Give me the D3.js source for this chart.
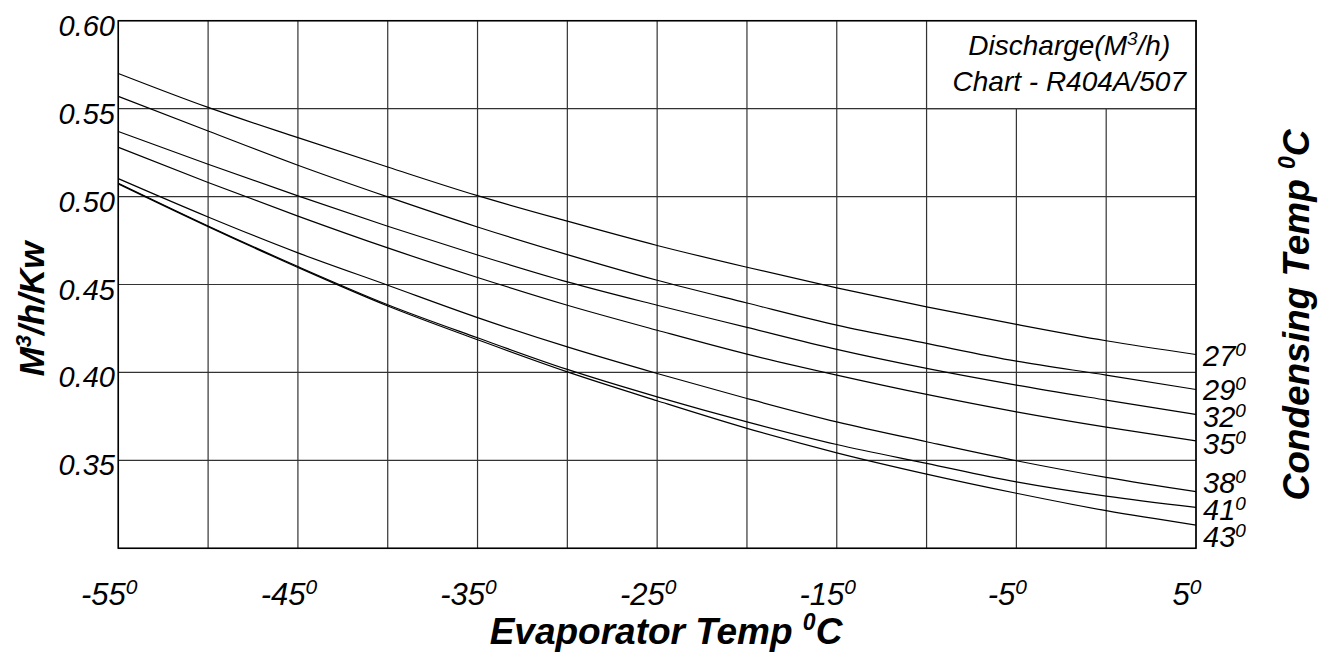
<!DOCTYPE html>
<html>
<head>
<meta charset="utf-8">
<script src="https://cdn.jsdelivr.net/npm/d3@7"></script>
<style>
  body { margin: 0; background: #fff; }
  svg { display: block; font-family: "Liberation Sans", Arial, sans-serif; }
</style>
</head>
<body>
<div id="chart"></div>
<script>
// evaporator temps (x), one series per condensing temp
var evapTemps = [-55, -50, -45, -40, -35, -30, -25, -20, -15, -10, -5, 0, 5];
var condTemps = [27, 29, 32, 35, 38, 41, 43];

var cond27 = [0.570, 0.5507, 0.5335, 0.5168, 0.5005, 0.4860, 0.4722, 0.4598, 0.4481, 0.4373, 0.4273, 0.4180, 0.4102];
var cond29 = [0.557, 0.5373, 0.5178, 0.4998, 0.4827, 0.4670, 0.4524, 0.4395, 0.4269, 0.4165, 0.4064, 0.3985, 0.3903];
var cond32 = [0.537, 0.5184, 0.5004, 0.4831, 0.4668, 0.4515, 0.4382, 0.4256, 0.4131, 0.4023, 0.3928, 0.3843, 0.3761];
var cond35 = [0.528, 0.5080, 0.4889, 0.4708, 0.4540, 0.4382, 0.4240, 0.4104, 0.3985, 0.3875, 0.3776, 0.3689, 0.3611];
var cond38 = [0.5102, 0.4884, 0.4680, 0.4496, 0.4312, 0.4145, 0.3994, 0.3852, 0.3719, 0.3606, 0.3498, 0.3403, 0.3322];
var cond41 = [0.5076, 0.4833, 0.4602, 0.4385, 0.4197, 0.4017, 0.3861, 0.3719, 0.3590, 0.3483, 0.3378, 0.3297, 0.3233];
var cond43 = [0.5072, 0.4829, 0.4597, 0.4378, 0.4186, 0.4003, 0.3839, 0.3682, 0.3543, 0.3422, 0.3313, 0.3214, 0.3132];

var gridX = [-55, -50, -45, -40, -35, -30, -25, -20, -15, -10, -5, 0, 5];
var gridY = [0.30, 0.35, 0.40, 0.45, 0.50, 0.55, 0.60];
var xLabelTemps = [-55, -45, -35, -25, -15, -5, 5];
var yTicks = [0.35, 0.40, 0.45, 0.50, 0.55, 0.60];

var seriesVals = [cond27, cond29, cond32, cond35, cond38, cond41, cond43];

var W = 1332, H = 655;
var svg = d3.select('#chart').append('svg')
    .attr('width', W)
    .attr('height', H);

var x = d3.scaleLinear().domain([-55, 5]).range([118.3, 1196]);
var y = d3.scaleLinear().domain([0.30, 0.60]).range([548.3, 20.7]);

// grid
var grid = svg.append('g')
    .attr('stroke', '#333')
    .attr('stroke-width', 1.2);

grid.selectAll('line.v').data(gridX).enter().append('line')
    .attr('class', 'v')
    .attr('x1', d => x(d)).attr('x2', d => x(d))
    .attr('y1', y(0.30)).attr('y2', y(0.60));

grid.selectAll('line.h').data(gridY).enter().append('line')
    .attr('class', 'h')
    .attr('x1', x(-55)).attr('x2', x(5))
    .attr('y1', d => y(d)).attr('y2', d => y(d));

// title box top right
svg.append('rect')
    .attr('x', x(-10)).attr('y', y(0.60))
    .attr('width', x(5) - x(-10))
    .attr('height', y(0.55) - y(0.60))
    .attr('fill', '#fff')
    .attr('stroke', '#333')
    .attr('stroke-width', 1.2);

var boxCx = (x(-10) + x(5)) / 2 + 8;
var t1 = svg.append('text')
    .attr('x', boxCx).attr('y', 55)
    .attr('text-anchor', 'middle')
    .attr('font-size', 28)
    .attr('font-style', 'italic');
t1.append('tspan').text('Discharge(M');
t1.append('tspan').attr('font-size', 19).attr('dy', -10).text('3');
t1.append('tspan').attr('dy', 10).text('/h)');

svg.append('text')
    .attr('x', boxCx).attr('y', 91)
    .attr('text-anchor', 'middle')
    .attr('font-size', 28)
    .attr('font-style', 'italic')
    .text('Chart - R404A/507');

// frame
svg.append('rect')
    .attr('x', x(-55)).attr('y', y(0.60))
    .attr('width', x(5) - x(-55))
    .attr('height', y(0.30) - y(0.60))
    .attr('fill', 'none')
    .attr('stroke', '#000')
    .attr('stroke-width', 1.5);

// curves
var line = d3.line()
    .x((d, i) => x(evapTemps[i]))
    .y(d => y(d))
    .curve(d3.curveMonotoneX);

svg.append('g').selectAll('path').data(seriesVals).enter().append('path')
    .attr('d', line)
    .attr('fill', 'none')
    .attr('stroke', '#000')
    .attr('stroke-width', 1.2);

// end labels, pushed apart so they don't overlap
var minGap = 27;
var pos = seriesVals.map(s => y(s[s.length - 1]));
for (var it = 0; it < 80; it++) {
    for (var i = 1; i < pos.length; i++) {
        var gap = pos[i] - pos[i - 1];
        if (gap < minGap) {
            var sh = (minGap - gap) / 2;
            pos[i - 1] -= sh;
            pos[i] += sh;
        }
    }
}

var endLabels = svg.append('g').selectAll('text').data(condTemps).enter().append('text')
    .attr('x', x(5) + 7)
    .attr('y', (d, i) => pos[i] + 12)
    .attr('font-size', 29)
    .attr('font-style', 'italic');
endLabels.append('tspan').text(d => d);
endLabels.append('tspan').attr('font-size', 19).attr('dy', -10).text('0');

// x tick labels
var xl = svg.append('g').selectAll('text').data(xLabelTemps).enter().append('text')
    .attr('x', d => x(d) - 9)
    .attr('y', 605)
    .attr('text-anchor', 'middle')
    .attr('font-size', 31)
    .attr('font-style', 'italic');
xl.append('tspan').text(d => d);
xl.append('tspan').attr('font-size', 21).attr('dy', -11).text('0');

// y tick labels
svg.append('g').selectAll('text').data(yTicks).enter().append('text')
    .attr('x', 115)
    .attr('y', d => y(d) + 15)
    .attr('text-anchor', 'end')
    .attr('font-size', 29)
    .attr('font-style', 'italic')
    .text(d3.format('.2f'));

// axis titles
var xt = svg.append('text')
    .attr('x', 666).attr('y', 644)
    .attr('text-anchor', 'middle')
    .attr('font-size', 37)
    .attr('font-weight', 'bold')
    .attr('font-style', 'italic');
xt.append('tspan').text('Evaporator Temp ');
xt.append('tspan').attr('font-size', 23).attr('dy', -14).text('0');
xt.append('tspan').attr('dy', 14).text('C');

var yt = svg.append('text')
    .attr('transform', 'translate(44,309) rotate(-90)')
    .attr('text-anchor', 'middle')
    .attr('font-size', 35)
    .attr('font-weight', 'bold')
    .attr('font-style', 'italic');
yt.append('tspan').text('M');
yt.append('tspan').attr('font-size', 22).attr('dy', -13).text('3');
yt.append('tspan').attr('dy', 13).text('/h/Kw');

var rt = svg.append('text')
    .attr('transform', 'translate(1309,315) rotate(-90)')
    .attr('text-anchor', 'middle')
    .attr('font-size', 37)
    .attr('font-weight', 'bold')
    .attr('font-style', 'italic');
rt.append('tspan').text('Condensing Temp ');
rt.append('tspan').attr('font-size', 23).attr('dy', -14).text('0');
rt.append('tspan').attr('dy', 14).text('C');
</script>
</body>
</html>
